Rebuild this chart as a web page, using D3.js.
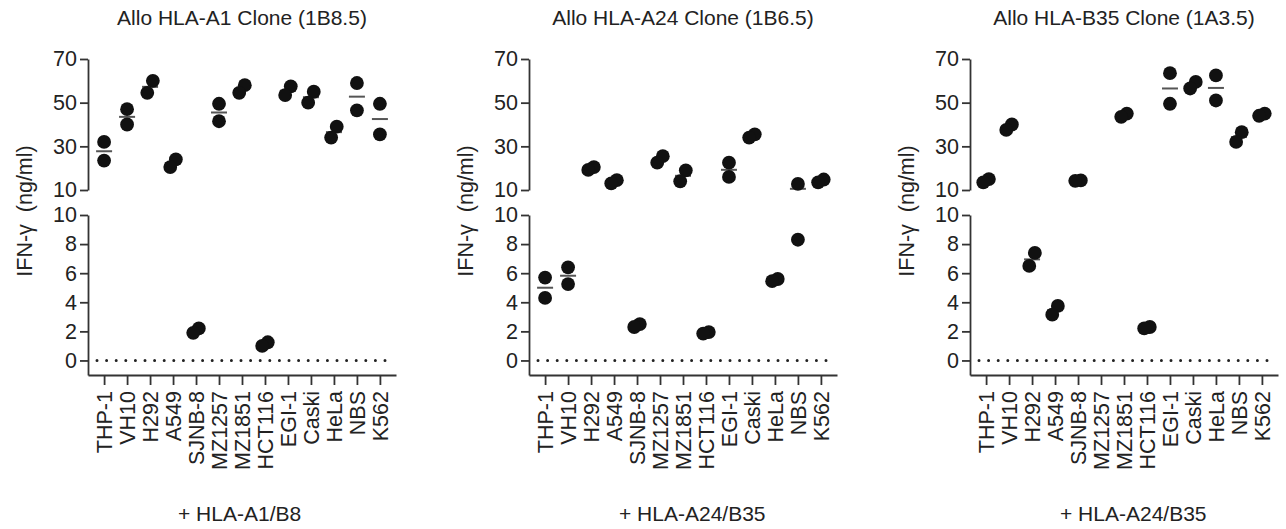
<!DOCTYPE html>
<html>
<head>
<meta charset="utf-8">
<script src="https://cdn.jsdelivr.net/npm/d3@7"></script>
<style>
  body { margin: 0; background: #fff; }
  text { font-family: "Liberation Sans", Arial, sans-serif; fill: #222; }
</style>
</head>
<body>
<div id="chart"></div>
<script>
const cellLines = ["THP-1", "VH10", "H292", "A549", "SJNB-8", "MZ1257", "MZ1851",
  "HCT116", "EGI-1", "Caski", "HeLa", "NBS", "K562"];

const panelTitles = ["Allo HLA-A1 Clone (1B8.5)", "Allo HLA-A24 Clone (1B6.5)", "Allo HLA-B35 Clone (1A3.5)"];
const panelLabels = ["+ HLA-A1/B8", "+ HLA-A24/B35", "+ HLA-A24/B35"];

// two replicates per cell line (ng/ml)
const cloneA1 = [[32, 23.5], [47, 40], [60, 54.5], [24, 20.5], [2.2, 1.9], [49.5, 41.5], [58, 54.5],
  [1.25, 1.0], [57.5, 53.5], [55, 50], [39, 34], [59, 46.5], [49.5, 35.5]];
const cloneA24 = [[5.7, 4.3], [6.4, 5.25], [20.5, 19.2], [14.5, 13], [2.5, 2.3], [25.5, 22.5], [19, 14],
  [1.95, 1.85], [22.5, 16], [35.5, 34], [5.6, 5.45], [12.8, 8.3], [14.8, 13.5]];
const cloneB35 = [[15, 13.5], [40, 37.5], [7.4, 6.5], [3.75, 3.15], [14.4, 14.2], null, [45, 43.5],
  [2.3, 2.2], [63.5, 49.5], [59.5, 56.5], [62.5, 51], [36.5, 32], [45, 44]];

const upperTicks = [10, 30, 50, 70];
const lowerTicks = [0, 2, 4, 6, 8, 10];

const panels = [cloneA1, cloneA24, cloneB35];

const width = 1286, height = 529;
const r = 6.9;

const svg = d3.select("#chart")
  .append("svg")
  .attr("width", width)
  .attr("height", height);

function styleAxis(sel) {
  sel.selectAll("path, line").attr("stroke", "#333").attr("stroke-width", 1.8);
  sel.selectAll("text").attr("fill", "#222").style("font-size", "21.5px")
    .style("font-family", "'Liberation Sans', Arial, sans-serif");
}

panels.forEach((values, i) => {
  const x0 = 88 + i * 441;
  const g = svg.append("g").attr("transform", "translate(" + x0 + ",0)");

  const x = d3.scalePoint().domain(cellLines).range([0, 308]).padding(0.7);
  const yUp = d3.scaleLinear().domain([10, 70]).range([190, 59]);
  const yLo = d3.scaleLinear().domain([-1, 10]).range([375, 215]);
  const yv = v => v >= 10 ? yUp(v) : yLo(v);

  // axes
  g.append("g")
    .call(d3.axisLeft(yUp).tickValues(upperTicks).tickSize(8).tickSizeOuter(0).tickPadding(3))
    .call(styleAxis);

  g.append("g")
    .call(d3.axisLeft(yLo).tickValues(lowerTicks).tickSize(8).tickSizeOuter(0).tickPadding(3))
    .call(styleAxis);

  const xAxis = g.append("g")
    .attr("transform", "translate(0,375)")
    .call(d3.axisBottom(x).tickSize(10).tickSizeOuter(0).tickPadding(6))
    .call(styleAxis);
  xAxis.selectAll("text")
    .attr("transform", "rotate(-90)")
    .attr("text-anchor", "end")
    .attr("x", -16)
    .attr("y", 0)
    .attr("dy", "0.36em");

  // dotted zero line
  g.append("line")
    .attr("x1", 9)
    .attr("x2", 300)
    .attr("y1", yLo(0))
    .attr("y2", yLo(0))
    .attr("stroke", "#222")
    .attr("stroke-width", 3)
    .attr("stroke-linecap", "round")
    .attr("stroke-dasharray", "0,9.6");

  const rows = cellLines.map((c, k) => ({ cell: c, v: values[k] })).filter(d => d.v);

  // mean lines
  g.append("g")
    .selectAll("line")
    .data(rows)
    .enter()
    .append("line")
    .attr("x1", d => x(d.cell) - 8)
    .attr("x2", d => x(d.cell) + 8)
    .attr("y1", d => yv(d3.mean(d.v)))
    .attr("y2", d => yv(d3.mean(d.v)))
    .attr("stroke", "#555")
    .attr("stroke-width", 2);

  // replicate points
  const pts = [];
  rows.forEach(d => {
    const hi = Math.max(d.v[0], d.v[1]), lo = Math.min(d.v[0], d.v[1]);
    const close = Math.abs(yv(hi) - yv(lo)) < 2 * r;
    pts.push({ cx: x(d.cell) + (close ? 2.8 : 0), cy: yv(hi) });
    pts.push({ cx: x(d.cell) - (close ? 2.8 : 0), cy: yv(lo) });
  });

  g.append("g")
    .selectAll("circle")
    .data(pts)
    .enter()
    .append("circle")
    .attr("cx", d => d.cx)
    .attr("cy", d => d.cy)
    .attr("r", r)
    .attr("fill", "#111");

  // texts
  const mid = (x(cellLines[0]) + x(cellLines[cellLines.length - 1])) / 2;
  g.append("text")
    .attr("x", mid)
    .attr("y", 25)
    .attr("text-anchor", "middle")
    .style("font-size", "21px")
    .text(panelTitles[i]);

  g.append("text")
    .attr("x", 90)
    .attr("y", 521)
    .style("font-size", "21px")
    .text(panelLabels[i]);

  g.append("text")
    .attr("transform", "translate(-64,211) rotate(-90)")
    .attr("text-anchor", "middle")
    .attr("dy", "0.36em")
    .style("font-size", "21.5px")
    .style("white-space", "pre")
    .text("IFN-\u03b3  (ng/ml)");
});
</script>
</body>
</html>
